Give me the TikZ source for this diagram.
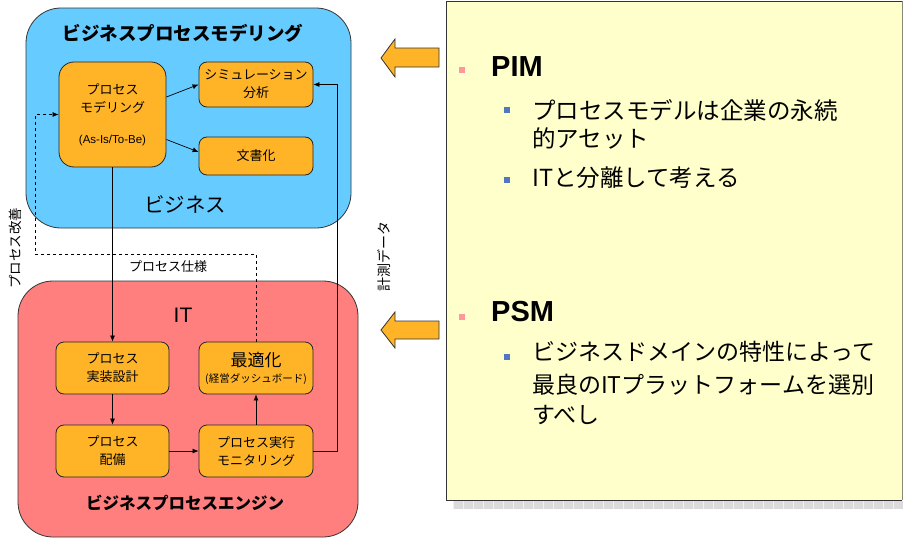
\documentclass[tikz,border=0pt]{standalone}
\usepackage{fontspec}
\setmainfont{Noto Sans CJK JP}
\newfontfamily\lat{Liberation Sans}
\usetikzlibrary{arrows.meta}
\definecolor{bizblue}{RGB}{102,204,255}
\definecolor{itred}{RGB}{255,127,127}
\definecolor{oboxc}{RGB}{255,180,40}
\definecolor{ypanel}{RGB}{255,255,204}
\definecolor{bpink}{RGB}{255,153,153}
\definecolor{bblue}{RGB}{80,120,190}
\newcommand{\fs}[1]{\fontsize{#1}{#1}\selectfont}
\begin{document}
\begin{tikzpicture}[x=1pt,y=-1pt,
  obox/.style={draw=black!85, fill=oboxc, rounded corners=8pt, line width=0.8pt, align=center, inner sep=0pt, font=\fontsize{13}{18}\selectfont},
  conn/.style={line width=0.7pt, -{Latex[length=6pt,width=5pt]}},
  panel/.style={draw=black!80, line width=0.8pt},
  blockarrow/.style={draw=black!80, fill=oboxc, line width=0.8pt},
  bul/.style={anchor=west, inner sep=0pt},
]
\useasboundingbox (0,0) rectangle (903,538);
% right panel
\fill[gray!28] (453,500.5) rectangle (903,509);
\foreach \i in {0,...,45} {\draw[gray!12, line width=0.6pt] (453+\i*10,500.5) -- (453+\i*10,509);}
\fill[ypanel] (446,1) rectangle (902,500);
\draw[black!80, line width=1pt] (902,1) -- (446,1) -- (446,500) -- (902,500);
\draw[black!45!ypanel!60!gray, line width=1pt] (902,1) -- (902,500);
% big rounded boxes
\draw[panel, fill=bizblue, rounded corners=35pt] (26,8) rectangle (351,228);
\draw[panel, fill=itred, rounded corners=35pt] (18,281) rectangle (358,537);
% titles
\node[font=\fs{18.5}\bfseries] (t1) at (183,33) {ビジネスプロセスモデリング};
\node[font=\fs{20.5}] (t2) at (185,204) {ビジネス};
\node[font=\lat\fs{21}] (t3) at (183,315) {IT};
\node[font=\fs{16.5}\bfseries] (t4) at (185,503) {ビジネスプロセスエンジン};
% orange boxes
\node[obox, rounded corners=15pt, minimum width=107pt, minimum height=105pt] (pm) at (112.5,114.5)
  {プロセス\\モデリング\\[13pt]{\lat\fontsize{11.5}{12}\selectfont (As-Is/To-Be)}};
\node[obox, minimum width=114pt, minimum height=45pt] (sim) at (256,84.5) {シミュレーション\\分析};
\node[obox, minimum width=114pt, minimum height=38pt] (doc) at (256,156) {文書化};
\node[obox, minimum width=113pt, minimum height=52pt] (impl) at (112.5,368) {プロセス\\実装設計};
\node[obox, minimum width=114pt, minimum height=52pt, font=\fontsize{17}{17}\selectfont] (opt) at (256,368)
  {最適化\\[-1pt]{\fontsize{10.5}{11}\selectfont (経営ダッシュボード)}};
\node[obox, minimum width=113pt, minimum height=52pt] (dep) at (112.5,451) {プロセス\\配備};
\node[obox, minimum width=114pt, minimum height=52pt] (mon) at (256,451) {プロセス実行\\モニタリング};
% connectors
\coordinate (c1) at (35,254);
\coordinate (c2) at (337,84.5);
\draw[conn] ([yshift=17.5pt]pm.east) -- (sim.west);
\draw[conn] ([yshift=-25pt]pm.east) -- ([yshift=4pt]doc.west);
\draw[conn, dashed] (opt.north) |- (c1) |- (pm.west);
\draw[conn] (pm.south) -- (impl.north);
\draw[conn] (impl.south) -- (dep.north);
\draw[conn] (dep.east) -- (mon.west);
\draw[conn] (mon.north) -- (opt.south);
\draw[conn] (mon.east) -| (c2) -- (sim.east);
\node[font=\fs{13}] (spec) at (168,267) {プロセス仕様};
\node[font=\fs{13.5}, rotate=90] (kaizen) at (15,248) {プロセス改善};
\node[font=\fs{14}, rotate=90] (meas) at (384,256) {計測データ};
% block arrows
\draw[blockarrow] (381,58) -- (395,39) -- (395,48) -- (439,48) -- (439,67) -- (395,67) -- (395,77) -- cycle;
\draw[blockarrow] (381,330) -- (395,312) -- (395,321) -- (439,321) -- (439,339) -- (395,339) -- (395,348) -- cycle;
% bullets
\fill[bpink] (459,67) rectangle (465,73);
\node[bul, font=\lat\bfseries\fs{29}] (pim) at (491,67) {PIM};
\fill[bblue] (504,107) rectangle (510,113);
\node[bul, font=\fs{23.5}] (l1) at (532,110) {プロセスモデルは企業の永続};
\node[bul, font=\fs{23.5}] (l2) at (532,138) {的アセット};
\fill[bblue] (504,177) rectangle (510,183);
\node[bul, font=\fs{23.5}] (l3) at (532,178) {ITと分離して考える};
\fill[bpink] (459,314) rectangle (465,320);
\node[bul, font=\lat\bfseries\fs{29}] (psm) at (491,312) {PSM};
\fill[bblue] (504,354) rectangle (510,360);
\node[bul, font=\fs{23}] (l4) at (532,352) {ビジネスドメインの特性によって};
\node[bul, font=\fs{23}] (l5) at (532,385) {最良のITプラットフォームを選別};
\node[bul, font=\fs{23}] (l6) at (532,415) {すべし};
\end{tikzpicture}
\end{document}
